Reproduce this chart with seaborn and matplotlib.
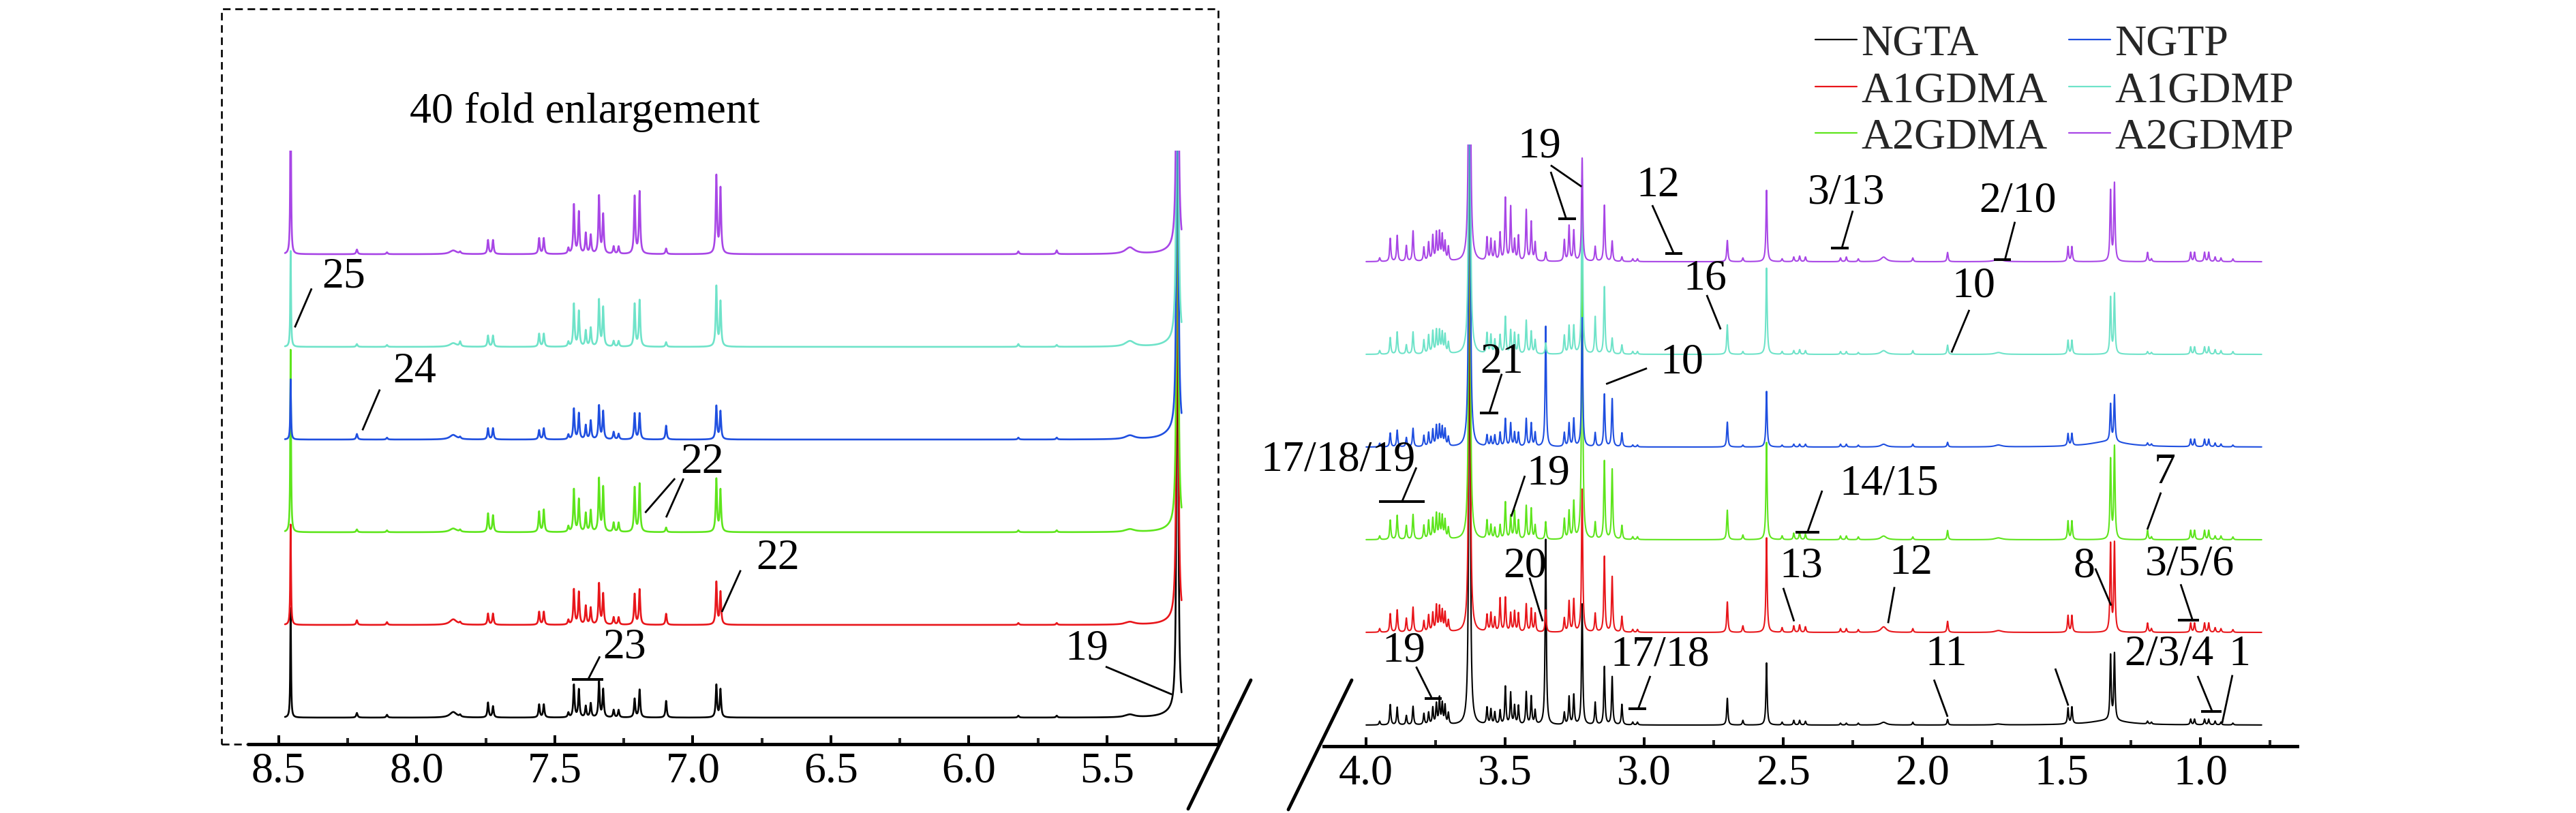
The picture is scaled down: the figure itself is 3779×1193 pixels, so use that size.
import numpy as np
import pandas as pd
import matplotlib
matplotlib.use("Agg")
import matplotlib.pyplot as plt
import seaborn as sns
from matplotlib.lines import Line2D
from matplotlib.patches import Rectangle
from matplotlib.ticker import MultipleLocator, FormatStrFormatter

# ---------------- data ----------------
samples = ["NGTA", "A1GDMA", "A2GDMA", "NGTP", "A1GDMP", "A2GDMP"]   # bottom -> top
colors = ["#000000", "#E8161B", "#5EE51C", "#1F4FE0", "#6FE3C9", "#A846E6"]

# right panel (4.0 - 0.78 ppm): peak positions, half widths and heights (stack units)
hi_ppm = [3.951, 3.913, 3.888, 3.855, 3.831, 3.792, 3.775, 3.760, 3.747, 3.736, 3.726, 3.716, 3.704,
          3.628, 3.565, 3.551, 3.537, 3.518, 3.499, 3.480, 3.466, 3.452, 3.424, 3.406, 3.392, 3.354,
          3.287, 3.270, 3.253, 3.223, 3.176, 3.143, 3.115, 3.080, 3.041, 3.024, 2.701, 2.645, 2.560,
          2.504, 2.462, 2.441, 2.420, 2.294, 2.273, 2.230, 2.139, 2.034, 1.909, 1.726, 1.476, 1.462,
          1.323, 1.309, 1.190, 1.176, 1.035, 1.021, 0.985, 0.970, 0.947, 0.926, 0.883, 1.330]
hi_width = [0.0025] * 13 + [0.0025] + [0.0025] * 32 + [0.012, 0.0025, 0.0025, 0.015] + [0.0025] * 13 + [0.08]
hi_NGTA = [.04, .22, .19, .10, .20, .12, .13, .18, .22, .28, .22, .20, .12, 7.0, .18, .16, .13, .15, .41, .34,
           .20, .20, .35, .30, .15, 2.0, .13, .30, .32, 1.31, .24, .63, .52, .22, .03, .03, .29, .05, .67,
           .03, .05, .05, .04, .02, .02, .02, .03, .03, .06, .01, .17, .18, .70, .72, .03, .02, .06, .06,
           .06, .06, .04, .03, .02, .05]
hi_A1GDMA = [.04, .20, .24, .15, .27, .12, .18, .20, .28, .26, .22, .20, .12, 7.0, .18, .20, .15, .36, .37,
             .20, .22, .20, .30, .25, .20, .24, .15, .33, .35, 1.55, .20, .82, .60, .17, .03, .03, .33, .07,
             1.02, .05, .07, .08, .06, .04, .04, .03, .06, .04, .12, .02, .18, .18, .95, .96, .10, .04, .10,
             .10, .10, .10, .05, .04, .03, .0]
hi_A2GDMA = [.04, .21, .26, .15, .27, .15, .20, .22, .27, .25, .24, .20, .12, 7.0, .20, .15, .12, .15, .40,
             .25, .30, .20, .36, .33, .15, .19, .22, .30, .40, 3.3, .18, .85, .76, .15, .03, .03, .32, .05,
             1.05, .04, .07, .08, .06, .04, .04, .03, .04, .03, .10, .02, .20, .20, .86, 1.0, .10, .03, .10,
             .10, .10, .10, .04, .04, .03, .0]
hi_NGTP = [.04, .15, .18, .10, .20, .12, .15, .18, .22, .22, .20, .18, .10, 7.0, .12, .10, .12, .15, .30, .25,
           .15, .15, .30, .25, .15, 1.3, .15, .25, .30, 1.4, .15, .57, .52, .15, .02, .02, .27, .02, .60,
           .02, .03, .03, .03, .03, .03, .02, .03, .03, .05, .02, .13, .13, .40, .50, .03, .02, .08, .08,
           .08, .08, .04, .03, .02, .06]
hi_A1GDMP = [.04, .18, .24, .10, .24, .15, .20, .24, .25, .24, .22, .20, .12, 7.0, .22, .20, .15, .20, .40,
             .25, .22, .20, .36, .24, .15, .12, .20, .30, .30, 1.9, .40, .73, .17, .10, .03, .03, .32, .03,
             .93, .03, .04, .05, .04, .03, .03, .02, .04, .04, .10, .02, .15, .15, .61, .65, .03, .02, .08,
             .08, .08, .08, .05, .04, .03, .0]
hi_A2GDMP = [.04, .25, .28, .17, .33, .15, .20, .27, .30, .30, .27, .20, .15, 7.0, .25, .23, .20, .30, .68,
             .58, .22, .27, .55, .42, .20, .10, .23, .38, .33, 1.12, .16, .61, .22, .05, .03, .03, .23, .04,
             .77, .03, .05, .06, .05, .04, .05, .03, .05, .04, .10, .03, .16, .16, .76, .84, .10, .03, .10,
             .10, .10, .10, .05, .04, .03, .0]

# left panel (40 fold enlargement, 8.47 - 5.23 ppm)
lo_ppm = [8.457, 8.217, 8.108, 7.868, 7.843, 7.742, 7.724, 7.557, 7.540, 7.451, 7.431, 7.413, 7.388, 7.370,
          7.340, 7.325, 7.287, 7.269, 7.211, 7.193, 7.097, 6.915, 6.900, 5.821, 5.682, 5.417, 5.245, 5.260]
lo_width = [0.0016, 0.003, 0.003, 0.015, 0.003] + [0.0028] * 18 + [0.003, 0.003, 0.02, 0.0026, 0.04]
lo_NGTA = [1.2, .05, .03, .06, .02, .16, .12, .14, .14, .05, .35, .30, .12, .15, .38, .30, .08, .08, .20, .30,
           .18, .35, .30, .02, .02, .03, 8.0, .06]
lo_A1GDMA = [1.1, .05, .03, .06, .02, .12, .12, .14, .14, .05, .38, .35, .20, .18, .44, .33, .08, .08, .33,
             .38, .12, .46, .35, .02, .02, .03, 8.0, .05]
lo_A2GDMA = [2.0, .03, .02, .04, .02, .20, .18, .22, .24, .06, .46, .35, .20, .23, .57, .48, .10, .10, .48,
             .52, .05, .57, .45, .02, .02, .03, 8.0, .05]
lo_NGTP = [.66, .06, .02, .05, .02, .12, .12, .10, .12, .05, .33, .28, .15, .20, .36, .30, .08, .06, .28, .28,
           .15, .36, .30, .02, .02, .04, 8.0, .08]
lo_A1GDMP = [1.05, .03, .02, .04, .05, .12, .12, .14, .14, .05, .46, .38, .17, .20, .50, .42, .06, .06, .46,
             .50, .05, .65, .48, .03, .02, .06, 8.0, .05]
lo_A2GDMP = [2.0, .05, .02, .04, .02, .15, .15, .17, .17, .06, .53, .45, .22, .20, .62, .42, .08, .08, .62,
             .67, .06, .84, .70, .03, .04, .07, 8.0, .05]

hi_heights = [hi_NGTA, hi_A1GDMA, hi_A2GDMA, hi_NGTP, hi_A1GDMP, hi_A2GDMP]
lo_heights = [lo_NGTA, lo_A1GDMA, lo_A2GDMA, lo_NGTP, lo_A1GDMP, lo_A2GDMP]

# peak labels
hi_labels = ["19", "12", "3/13", "2/10", "16", "10", "21", "10", "17/18/19", "19", "14/15", "7",
             "20", "13", "12", "8", "3/5/6", "19", "17/18", "11", "", "2/3/4", "1"]
lo_labels = ["25", "24", "22", "22", "23", "19"]
panel_note = "40 fold enlargement"

# ---------------- layout of labels (ppm, stack units) ----------------
hi_ann = [
    ((3.377, 6.24), [((3.336, 5.97), (3.28, 5.46)), ((3.336, 6.04), (3.225, 5.81))], (3.309, 3.245, 5.46)),
    ((2.951, 5.82), [((2.971, 5.61), (2.895, 5.10))], (2.925, 2.863, 5.09)),
    ((2.272, 5.74), [((2.25, 5.55), (2.289, 5.15))], (2.328, 2.265, 5.15)),
    ((1.657, 5.65), [((1.667, 5.43), (1.703, 5.02))], (1.743, 1.681, 5.02)),
    ((2.782, 4.81), [((2.775, 4.64), (2.725, 4.27))], None),
    ((1.816, 4.73), [((1.831, 4.48), (1.895, 4.02))], None),
    ((3.512, 3.91), [((3.512, 3.79), (3.556, 3.375))], (3.59, 3.525, 3.37)),
    ((2.865, 3.91), [((2.99, 3.85), (3.137, 3.68))], None),
    ((4.101, 2.86), [((3.819, 2.78), (3.871, 2.41))], (3.954, 3.789, 2.41)),
    ((3.346, 2.71), [((3.429, 2.69), (3.478, 2.25))], None),
    ((2.12, 2.60), [((2.36, 2.53), (2.413, 2.08))], (2.456, 2.37, 2.08)),
    ((1.127, 2.72), [((1.142, 2.51), (1.191, 2.11))], None),
    ((3.429, 1.71), [((3.412, 1.59), (3.365, 1.12))], None),
    ((2.436, 1.71), [((2.5, 1.48), (2.461, 1.12))], None),
    ((2.04, 1.74), [((2.10, 1.49), (2.123, 1.10))], None),
    ((1.417, 1.71), [((1.378, 1.69), (1.321, 1.29))], None),
    ((1.037, 1.73), [((1.071, 1.52), (1.029, 1.14))], (1.081, 1.005, 1.13)),
    ((3.865, 0.80), [((3.82, 0.63), (3.765, 0.30))], (3.79, 3.728, 0.29)),
    ((2.944, 0.75), [((2.978, 0.53), (3.021, 0.18))], (3.056, 2.993, 0.18)),
    ((1.914, 0.76), [((1.958, 0.49), (1.909, 0.09))], None),
    ((1.5, 0.8), [((1.522, 0.61), (1.475, 0.21))], None),
    ((1.113, 0.76), [((1.01, 0.53), (0.958, 0.15))], (0.997, 0.924, 0.15)),
    ((0.86, 0.76), [((0.885, 0.54), (0.922, 0.02))], None),
]
lo_ann = [
    ((8.265, 4.75), [((8.381, 4.63), (8.442, 4.21))], None),
    ((8.007, 3.73), [((8.134, 3.54), (8.197, 3.10))], None),
    ((6.966, 2.75), [((7.065, 2.58), (7.173, 2.21)), ((7.034, 2.58), (7.097, 2.16))], None),
    ((6.693, 1.71), [((6.827, 1.59), (6.895, 1.14))], None),
    ((7.249, 0.75), [((7.337, 0.66), (7.38, 0.41))], (7.439, 7.325, 0.41)),
    ((5.574, 0.74), [((5.505, 0.55), (5.265, 0.25))], None),
]

# ---------------- helpers ----------------
def spectrum(grid, pos, widths, heights):
    g = grid[:, None]
    p = np.asarray(pos)[None, :]
    w = np.asarray(widths)[None, :]
    h = np.asarray(heights)[None, :]
    return (h * w ** 2 / ((g - p) ** 2 + w ** 2)).sum(axis=1)


def stacked_frame(grid, pos, widths, heights_list):
    frames = []
    for k, (name, hts) in enumerate(zip(samples, heights_list)):
        frames.append(pd.DataFrame({"ppm": grid,
                                    "y": spectrum(grid, pos, widths, hts) + k,
                                    "sample": name}))
    return pd.concat(frames, ignore_index=True)


sns.set_style("white")
plt.rcParams["font.family"] = ["Liberation Serif", "DejaVu Serif"]
plt.rcParams["lines.scale_dashes"] = False
FS = 46

W, H = 3780, 1193
fig = plt.figure(figsize=(W / 100, H / 100), dpi=100)


def fx(px):
    return px / W


def fy(py):
    return 1 - py / H


ax_l = fig.add_axes([fx(365), fy(1092), fx(1787) - fx(365), fy(221) - fy(1092)])
ax_r = fig.add_axes([fx(1942), fy(1095), fx(3370) - fx(1942), fy(212) - fy(1095)])

grid_lo = np.arange(5.23, 8.478, 0.0004)
grid_hi = np.arange(0.78, 4.0, 0.0004)
df_lo = stacked_frame(grid_lo, lo_ppm, lo_width, lo_heights)
df_hi = stacked_frame(grid_hi, hi_ppm, hi_width, hi_heights)

for ax, df, lw in ((ax_l, df_lo, 1.9), (ax_r, df_hi, 1.5)):
    sns.lineplot(data=df, x="ppm", y="y", hue="sample", hue_order=samples, palette=colors,
                 estimator=None, sort=False, legend=False, linewidth=lw, ax=ax)

ax_l.set_xlim(8.6086, 5.0975)
ax_l.set_ylim(-0.2868, 6.1176)
ax_r.set_xlim(4.152, 0.652)
ax_r.set_ylim(-0.228, 6.265)

for ax in (ax_l, ax_r):
    ax.set_facecolor("none")
    for s in ("top", "left", "right"):
        ax.spines[s].set_visible(False)
    ax.spines["bottom"].set_linewidth(3.6)
    ax.spines["bottom"].set_color("black")
    ax.set_xlabel("")
    ax.set_ylabel("")
    ax.set_yticks([])
    ax.xaxis.set_major_locator(MultipleLocator(0.5))
    ax.xaxis.set_minor_locator(MultipleLocator(0.25))
    ax.xaxis.set_major_formatter(FormatStrFormatter("%.1f"))
    ax.tick_params(axis="x", which="major", direction="in", length=9.5, width=2.9,
                   labelsize=FS, pad=8, bottom=True, colors="black")
    ax.tick_params(axis="x", which="minor", direction="in", length=6.5, width=2.9, bottom=True)
    ax.grid(False)


def draw_ann(ax, labels, anns):
    for lab, (tpos, lines, bar) in zip(labels, anns):
        if lab:
            ax.text(tpos[0], tpos[1], lab, fontsize=FS, ha="center", va="center", color="black")
        for (a, b) in lines:
            ax.plot([a[0], b[0]], [a[1], b[1]], color="black", lw=2.0, clip_on=False,
                    solid_capstyle="butt")
        if bar is not None:
            ax.plot([bar[0], bar[1]], [bar[2], bar[2]], color="black", lw=2.8, clip_on=False,
                    solid_capstyle="butt")


draw_ann(ax_r, hi_labels, hi_ann)
draw_ann(ax_l, lo_labels, lo_ann)
ax_l.text(8.027, 6.53, panel_note, fontsize=FS, ha="left", va="center", color="black")

# dashed enlargement frame
fig.add_artist(Rectangle((fx(325), fy(1092)), fx(1787) - fx(325), fy(13) - fy(1092),
                         transform=fig.transFigure, fill=False, edgecolor="black",
                         linewidth=1.9, linestyle=(0, (8, 5))))
# axis break marks
for (x0, y0, x1, y1) in ((1743, 1187, 1835, 998), (1890, 1188, 1983, 998)):
    fig.add_artist(Line2D([fx(x0), fx(x1)], [fy(y0), fy(y1)], transform=fig.transFigure,
                          color="black", lw=3.5))

# legend
handles = [Line2D([], [], color=c, lw=1.6) for c in colors]
fig.legend(handles, samples, ncol=2, loc="upper left",
           bbox_to_anchor=(fx(2663), fy(36)), bbox_transform=fig.transFigure,
           frameon=False, fontsize=FS, handlelength=0.95, handletextpad=0.1,
           columnspacing=0.5, labelspacing=0.15, borderpad=0, borderaxespad=0)

fig.savefig("out.png", dpi=100)
